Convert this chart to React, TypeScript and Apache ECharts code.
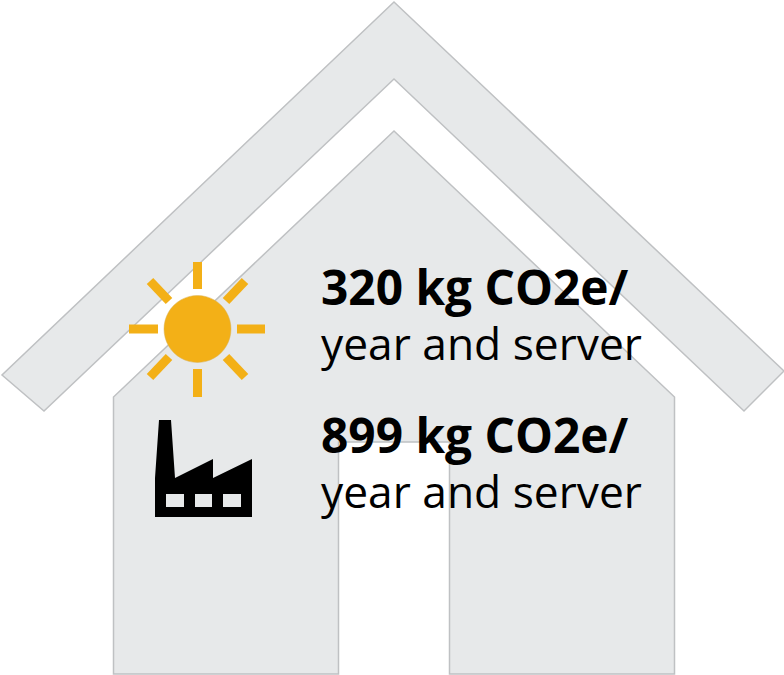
import React, { useEffect, useRef } from "react";
import * as echarts from "echarts";

const emissionValues = [320, 899];
const unitLabel = "kg CO2e/";
const secondLine = "year and server";

const houseFill = "#e7e9ea";
const houseStroke = "#bfc1c3";
const sunColor = "#f3b017";

const roofPts = [[394, 2], [784, 371], [744, 411], [394, 79], [44, 411], [2, 375]];
const bodyPts = [[394, 131], [674.5, 397], [674.5, 674], [449.5, 674], [449.5, 442], [338.5, 442], [338.5, 674], [113.5, 674], [113.5, 397]];
const raySegs = [
  [197.5, 262, 197.5, 289], [197.5, 369, 197.5, 397], [129, 329, 158, 329], [237, 329, 265, 329],
  [150, 281, 169, 301], [245, 281, 226, 301], [150, 377, 169, 357], [245, 377, 226, 357],
];
const factoryPts = [[159, 420], [171, 420], [175, 478], [213, 459], [213, 478], [252, 459], [252, 517], [155, 517], [155, 478]];
const windowRects = [[166, 494, 18, 13], [195, 494, 17, 13], [223, 494, 18, 13]];
const textLines = [
  { bold: true, y: 305, value: 0 },
  { bold: false, y: 360 },
  { bold: true, y: 453, value: 1 },
  { bold: false, y: 508 },
];

export default function App() {
  const ref = useRef<HTMLDivElement>(null);
  useEffect(() => {
    document.body.style.margin = "0";
    const chart = echarts.init(ref.current!, null, { renderer: "svg" });
    const elements: any[] = [
      { type: "polygon", shape: { points: roofPts }, style: { fill: houseFill, stroke: houseStroke, lineWidth: 1.5 } },
      { type: "polygon", shape: { points: bodyPts }, style: { fill: houseFill, stroke: houseStroke, lineWidth: 1.5 } },
      { type: "circle", shape: { cx: 197.5, cy: 329, r: 33.5 }, style: { fill: sunColor, stroke: "#d9b25a", lineWidth: 0.5 } },
      ...raySegs.map(([x1, y1, x2, y2]) => ({
        type: "line",
        shape: { x1, y1, x2, y2 },
        style: { stroke: sunColor, lineWidth: 9 },
      })),
      { type: "polygon", shape: { points: factoryPts }, style: { fill: "#000000" } },
      ...windowRects.map(([x, y, width, height]) => ({
        type: "rect",
        shape: { x, y, width, height },
        style: { fill: "#e7e9ea" },
      })),
      ...textLines.map((l) => ({
        type: "text",
        x: 321,
        y: l.y + 5,
        style: {
          text: l.bold ? `${emissionValues[l.value as number]} ${unitLabel}` : secondLine,
          fill: "#000000",
          font: `${l.bold ? 700 : 400} ${l.bold ? 47.8 : 44.3}px "Open Sans", sans-serif`,
          textAlign: "left",
          textVerticalAlign: "bottom",
        },
      })),
    ];
    chart.setOption({ animation: false, graphic: { elements } });
    return () => chart.dispose();
  }, []);
  return <div ref={ref} style={{ width: 784, height: 675 }} />;
}
